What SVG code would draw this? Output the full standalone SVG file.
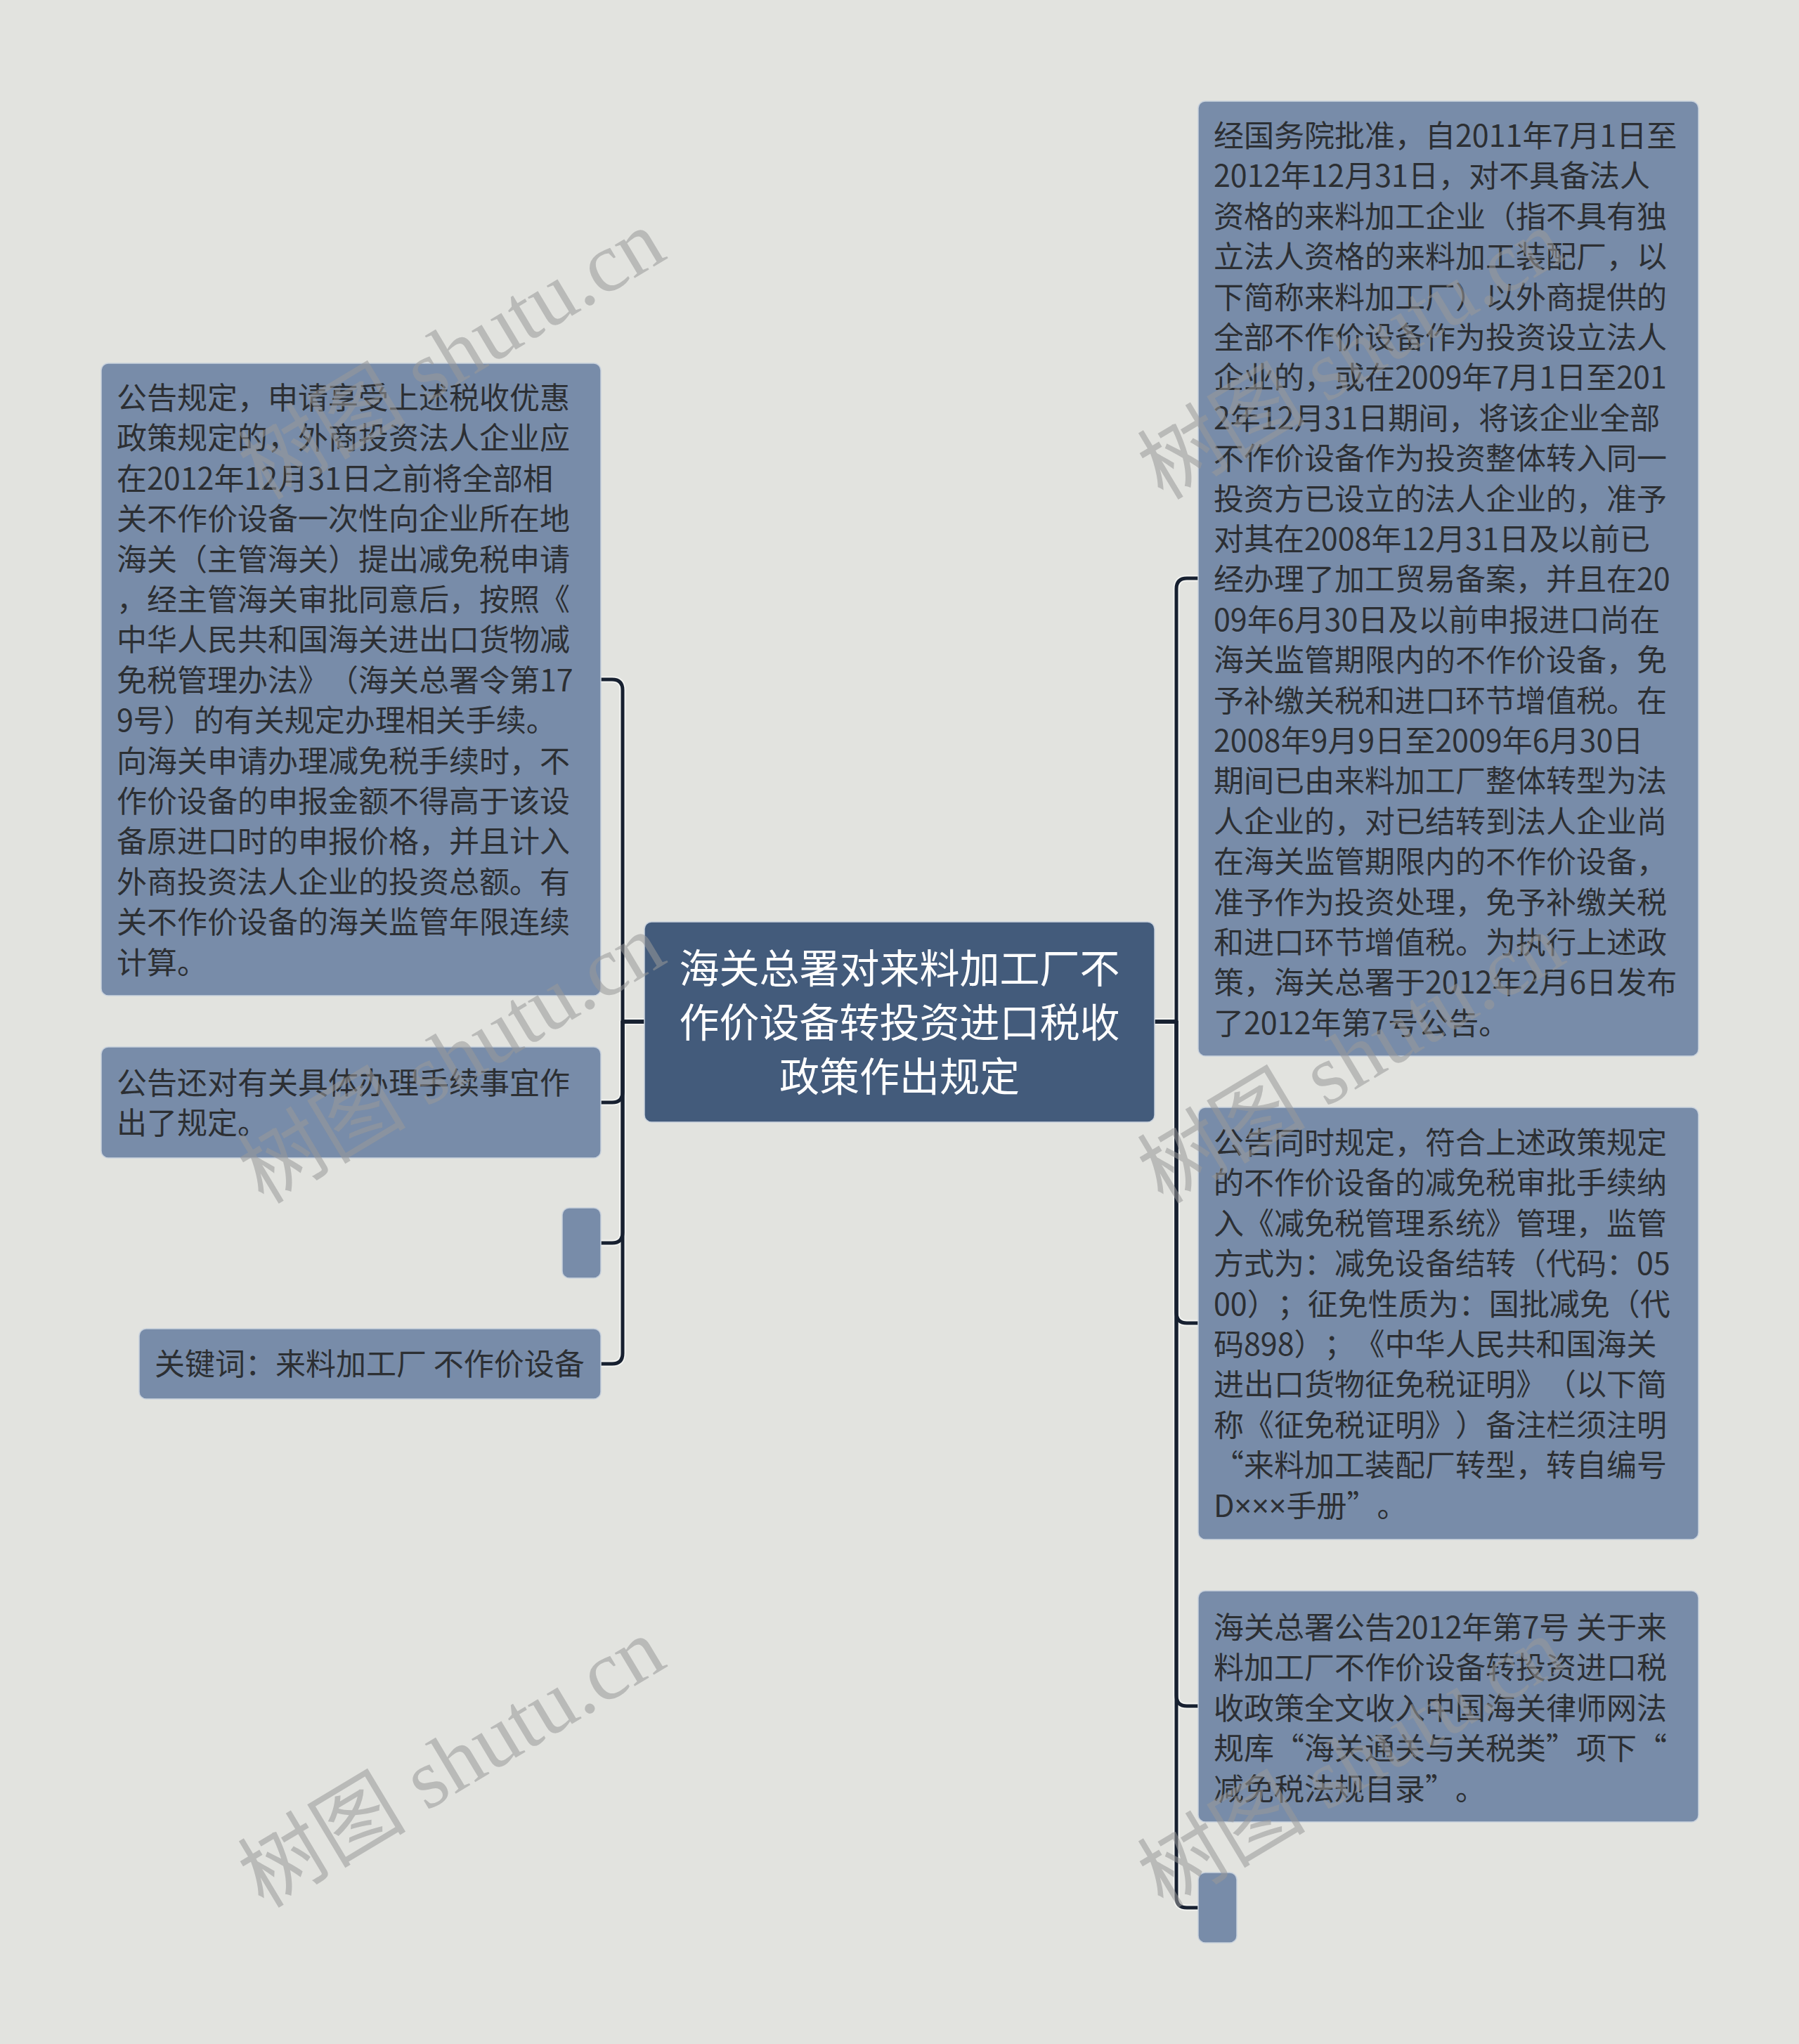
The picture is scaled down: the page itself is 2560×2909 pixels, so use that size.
<svg xmlns="http://www.w3.org/2000/svg" width="2560" height="2909" viewBox="0 0 2560 2909">
<defs>
<style>
.bg{fill:#e2e3df}
.child{fill:#788ca9;stroke:#c9d2dd;stroke-width:1.5}
.root{fill:#435b7b;stroke:#c9d2dd;stroke-width:1.5}
.t{font-family:"Noto Sans CJK SC","Noto Sans",sans-serif;font-size:43px;fill:#2c2f33;text-spacing-trim:space-all}
.rt{font-family:"Noto Sans CJK SC","Noto Sans",sans-serif;font-size:57px;fill:#ffffff;text-anchor:middle;text-spacing-trim:space-all}
.lat{font-family:"Noto Sans",sans-serif}
.halo{fill:none;stroke:#f3f4f1;stroke-width:9;stroke-linejoin:round}
.line{fill:none;stroke:#172030;stroke-width:5;stroke-linejoin:round}
.wm{font-family:"Liberation Serif","Noto Sans CJK SC",serif;font-size:120px;fill:#999999;opacity:0.55}
</style>
</defs>
<rect class="bg" x="0" y="0" width="2560" height="2909"/>

<g id="connectors">
<path class="halo" d="M917,1454 H886 V982 Q886,967 871,967 H855"/>
<path class="halo" d="M917,1454 H886 V1554 Q886,1569 871,1569 H855"/>
<path class="halo" d="M917,1454 H886 V1754 Q886,1769 871,1769 H855"/>
<path class="halo" d="M917,1454 H886 V1926 Q886,1941 871,1941 H855"/>
<path class="halo" d="M1643,1454 H1674 V838 Q1674,823 1689,823 H1705"/>
<path class="halo" d="M1643,1454 H1674 V1868 Q1674,1883 1689,1883 H1705"/>
<path class="halo" d="M1643,1454 H1674 V2413 Q1674,2428 1689,2428 H1705"/>
<path class="halo" d="M1643,1454 H1674 V2700 Q1674,2715 1689,2715 H1705"/>
<path class="line" d="M917,1454 H886 V982 Q886,967 871,967 H855"/>
<path class="line" d="M917,1454 H886 V1554 Q886,1569 871,1569 H855"/>
<path class="line" d="M917,1454 H886 V1754 Q886,1769 871,1769 H855"/>
<path class="line" d="M917,1454 H886 V1926 Q886,1941 871,1941 H855"/>
<path class="line" d="M1643,1454 H1674 V838 Q1674,823 1689,823 H1705"/>
<path class="line" d="M1643,1454 H1674 V1868 Q1674,1883 1689,1883 H1705"/>
<path class="line" d="M1643,1454 H1674 V2413 Q1674,2428 1689,2428 H1705"/>
<path class="line" d="M1643,1454 H1674 V2700 Q1674,2715 1689,2715 H1705"/>
</g>

<g id="root">
<rect class="root" x="917" y="1312" width="726" height="285" rx="10"/>
<text class="rt"><tspan x="1280" y="1399">海关总署对来料加工厂不</tspan><tspan x="1280" y="1476">作价设备转投资进口税收</tspan><tspan x="1280" y="1553">政策作出规定</tspan></text>
</g>

<g id="left1">
<rect class="child" x="144" y="517" width="711" height="900" rx="10"/>
<text class="t">
<tspan x="166" y="582">公告规定，申请享受上述税收优惠</tspan>
<tspan x="166" y="639.4">政策规定的，外商投资法人企业应</tspan>
<tspan x="166" y="696.8">在2012年12月31日之前将全部相</tspan>
<tspan x="166" y="754.2">关不作价设备一次性向企业所在地</tspan>
<tspan x="166" y="811.6">海关（主管海关）提出减免税申请</tspan>
<tspan x="166" y="869">，经主管海关审批同意后，按照《</tspan>
<tspan x="166" y="926.4">中华人民共和国海关进出口货物减</tspan>
<tspan x="166" y="983.8">免税管理办法》（海关总署令第17</tspan>
<tspan x="166" y="1041.2">9号）的有关规定办理相关手续。</tspan>
<tspan x="166" y="1098.6">向海关申请办理减免税手续时，不</tspan>
<tspan x="166" y="1156">作价设备的申报金额不得高于该设</tspan>
<tspan x="166" y="1213.4">备原进口时的申报价格，并且计入</tspan>
<tspan x="166" y="1270.8">外商投资法人企业的投资总额。有</tspan>
<tspan x="166" y="1328.2">关不作价设备的海关监管年限连续</tspan>
<tspan x="166" y="1385.6">计算。</tspan>
</text>
</g>

<g id="left2">
<rect class="child" x="144" y="1490" width="711" height="158" rx="10"/>
<text class="t"><tspan x="166" y="1557">公告还对有关具体办理手续事宜作</tspan><tspan x="166" y="1614.4">出了规定。</tspan></text>
</g>

<g id="left3">
<rect class="child" x="800" y="1719" width="55" height="100" rx="10"/>
</g>

<g id="left4">
<rect class="child" x="198" y="1891" width="657" height="100" rx="10"/>
<text class="t"><tspan x="220" y="1957">关键词：来料加工厂 不作价设备</tspan></text>
</g>

<g id="right1">
<rect class="child" x="1705" y="144" width="712" height="1359" rx="10"/>
<text class="t">
<tspan x="1727" y="209">经国务院批准，自2011年7月1日至</tspan>
<tspan x="1727" y="266.4">2012年12月31日，对不具备法人</tspan>
<tspan x="1727" y="323.8">资格的来料加工企业（指不具有独</tspan>
<tspan x="1727" y="381.2">立法人资格的来料加工装配厂，以</tspan>
<tspan x="1727" y="438.6">下简称来料加工厂）以外商提供的</tspan>
<tspan x="1727" y="496">全部不作价设备作为投资设立法人</tspan>
<tspan x="1727" y="553.4">企业的，或在2009年7月1日至201</tspan>
<tspan x="1727" y="610.8">2年12月31日期间，将该企业全部</tspan>
<tspan x="1727" y="668.2">不作价设备作为投资整体转入同一</tspan>
<tspan x="1727" y="725.6">投资方已设立的法人企业的，准予</tspan>
<tspan x="1727" y="783">对其在2008年12月31日及以前已</tspan>
<tspan x="1727" y="840.4">经办理了加工贸易备案，并且在20</tspan>
<tspan x="1727" y="897.8">09年6月30日及以前申报进口尚在</tspan>
<tspan x="1727" y="955.2">海关监管期限内的不作价设备，免</tspan>
<tspan x="1727" y="1012.6">予补缴关税和进口环节增值税。在</tspan>
<tspan x="1727" y="1070">2008年9月9日至2009年6月30日</tspan>
<tspan x="1727" y="1127.4">期间已由来料加工厂整体转型为法</tspan>
<tspan x="1727" y="1184.8">人企业的，对已结转到法人企业尚</tspan>
<tspan x="1727" y="1242.2">在海关监管期限内的不作价设备，</tspan>
<tspan x="1727" y="1299.6">准予作为投资处理，免予补缴关税</tspan>
<tspan x="1727" y="1357">和进口环节增值税。为执行上述政</tspan>
<tspan x="1727" y="1414.4">策，海关总署于2012年2月6日发布</tspan>
<tspan x="1727" y="1471.8">了2012年第7号公告。</tspan>
</text>
</g>

<g id="right2">
<rect class="child" x="1705" y="1576" width="712" height="615" rx="10"/>
<text class="t">
<tspan x="1727" y="1642">公告同时规定，符合上述政策规定</tspan>
<tspan x="1727" y="1699.4">的不作价设备的减免税审批手续纳</tspan>
<tspan x="1727" y="1756.8">入《减免税管理系统》管理，监管</tspan>
<tspan x="1727" y="1814.2">方式为：减免设备结转（代码：05</tspan>
<tspan x="1727" y="1871.6">00）；征免性质为：国批减免（代</tspan>
<tspan x="1727" y="1929">码898）；《中华人民共和国海关</tspan>
<tspan x="1727" y="1986.4">进出口货物征免税证明》（以下简</tspan>
<tspan x="1727" y="2043.8">称《征免税证明》）备注栏须注明</tspan>
<tspan x="1727" y="2101.2">“来料加工装配厂转型，转自编号</tspan>
<tspan x="1727" y="2158.6">D<tspan class="lat">×××</tspan>手册”。</tspan>
</text>
</g>

<g id="right3">
<rect class="child" x="1705" y="2264" width="712" height="329" rx="10"/>
<text class="t">
<tspan x="1727" y="2332">海关总署公告2012年第7号 关于来</tspan>
<tspan x="1727" y="2389.4">料加工厂不作价设备转投资进口税</tspan>
<tspan x="1727" y="2446.8">收政策全文收入中国海关律师网法</tspan>
<tspan x="1727" y="2504.2">规库“海关通关与关税类”项下“</tspan>
<tspan x="1727" y="2561.6">减免税法规目录”。</tspan>
</text>
</g>

<g id="right4">
<rect class="child" x="1705" y="2665" width="55" height="100" rx="10"/>
</g>

<g id="watermarks">
<text class="wm" transform="translate(375,713) rotate(-31)">树图 shutu.cn</text>
<text class="wm" transform="translate(375,1715) rotate(-31)">树图 shutu.cn</text>
<text class="wm" transform="translate(375,2717) rotate(-31)">树图 shutu.cn</text>
<text class="wm" transform="translate(1655,713) rotate(-31)">树图 shutu.cn</text>
<text class="wm" transform="translate(1655,1715) rotate(-31)">树图 shutu.cn</text>
<text class="wm" transform="translate(1655,2717) rotate(-31)">树图 shutu.cn</text>
</g>
</svg>
